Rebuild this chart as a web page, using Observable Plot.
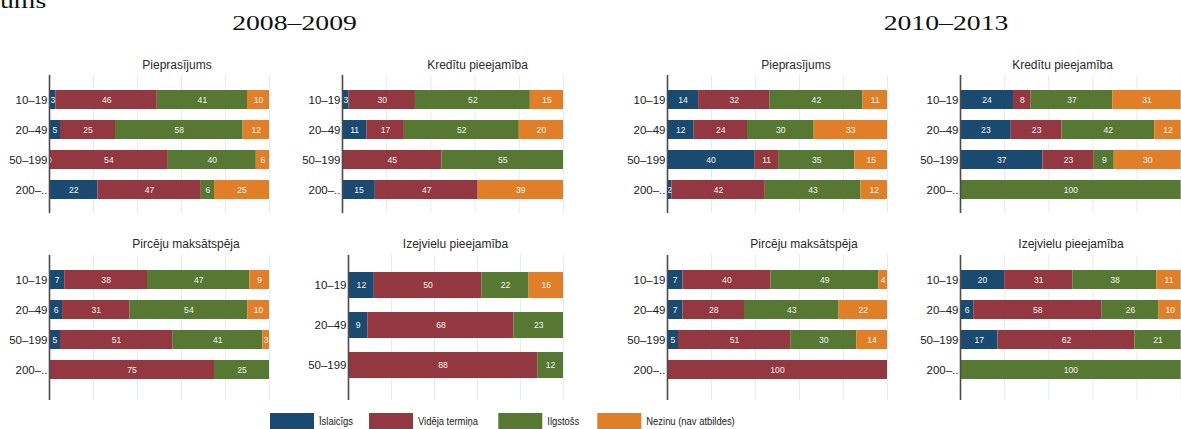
<!DOCTYPE html>
<html>
<head>
<meta charset="utf-8">
<script src="https://cdn.jsdelivr.net/npm/d3@7"></script>
<script src="https://cdn.jsdelivr.net/npm/@observablehq/plot@0.6"></script>
<style>
  body { margin: 0; background: #fff; }
  #root { position: relative; width: 1181px; height: 429px; overflow: hidden; font-family: "Liberation Sans", Arial, sans-serif; }
  #root > svg.panel { position: absolute; overflow: visible; }
  #overlay { position: absolute; left: 0; top: 0; pointer-events: none; }
</style>
</head>
<body>
<div id="root"></div>
<script>
// ---------- data ----------
const series = ["Īslaicīgs", "Vidēja termiņa", "Ilgstošs", "Nezinu (nav atbildes)"];
const colors = ["#1b4a70", "#933840", "#577833", "#e17f28"];
const sizes4 = ["10–19", "20–49", "50–199", "200–.."];
const sizes3 = ["10–19", "20–49", "50–199"];
const periods = ["2008–2009", "2010–2013"];
const topTitle = "ums";

// values per row: [Īslaicīgs, Vidēja termiņa, Ilgstošs, Nezinu]
const pieprasijums0809 = [[3, 46, 41, 10], [5, 25, 58, 12], [0, 54, 40, 6], [22, 47, 6, 25]];
const kreditu0809 = [[3, 30, 52, 15], [11, 17, 52, 20], [null, 45, 55, null], [15, 47, null, 39]];
const pircecu0809 = [[7, 38, 47, 9], [6, 31, 54, 10], [5, 51, 41, 3], [null, 75, 25, null]];
const izejvielu0809 = [[12, 50, 22, 16], [9, 68, 23, null], [null, 88, 12, null]];
const pieprasijums1013 = [[14, 32, 42, 11], [12, 24, 30, 33], [40, 11, 35, 15], [2, 42, 43, 12]];
const kreditu1013 = [[24, 8, 37, 31], [23, 23, 42, 12], [37, 23, 9, 30], [null, null, 100, null]];
const pircecu1013 = [[7, 40, 49, 4], [7, 28, 43, 22], [5, 51, 30, 14], [null, 100, null, null]];
const izejvielu1013 = [[20, 31, 38, 11], [6, 58, 26, 10], [17, 62, 21, null], [null, null, 100, null]];

const titles = ["Pieprasījums", "Kredītu pieejamība", "Pircēju maksātspēja", "Izejvielu pieejamība"];

// ---------- layout ----------
const panels = [
  {title: titles[0], rows: sizes4, values: pieprasijums0809, x0: 49, x1: 269, top: 75, bottom: 213, r0: 88.6, r1: 199.7, pi: 0.37, tx: 177, ty: 69},
  {title: titles[1], rows: sizes4, values: kreditu0809, x0: 342, x1: 563, top: 75, bottom: 213, r0: 88.6, r1: 199.7, pi: 0.37, tx: 477.5, ty: 69},
  {title: titles[0], rows: sizes4, values: pieprasijums1013, x0: 667, x1: 887, top: 75, bottom: 213, r0: 88.6, r1: 199.7, pi: 0.37, tx: 796, ty: 69},
  {title: titles[1], rows: sizes4, values: kreditu1013, x0: 960, x1: 1180.7, top: 75, bottom: 213, r0: 88.6, r1: 199.7, pi: 0.37, tx: 1062.5, ty: 69},
  {title: titles[2], rows: sizes4, values: pircecu0809, x0: 49, x1: 269, top: 255, bottom: 400, r0: 268.6, r1: 380.4, pi: 0.37, tx: 186, ty: 248},
  {title: titles[3], rows: sizes3, values: izejvielu0809, x0: 348, x1: 563, top: 255, bottom: 400, r0: 271.3, r1: 378.7, pi: 0.36, tx: 455.5, ty: 248},
  {title: titles[2], rows: sizes4, values: pircecu1013, x0: 667, x1: 887, top: 255, bottom: 400, r0: 268.6, r1: 380.4, pi: 0.37, tx: 804, ty: 248},
  {title: titles[3], rows: sizes4, values: izejvielu1013, x0: 960, x1: 1180.7, top: 255, bottom: 400, r0: 268.6, r1: 380.4, pi: 0.37, tx: 1071, ty: 248}
];

const root = document.getElementById("root");
const ml = 48, mr = 1;

panels.forEach(p => {
  const data = [];
  p.rows.forEach((r, i) => series.forEach((s, j) => {
    const v = p.values[i][j];
    if (v != null) data.push({size: r, series: s, value: v});
  }));
  const h = p.bottom - p.top;
  const chart = Plot.plot({
    width: (p.x1 - p.x0) + ml + mr,
    height: h,
    marginLeft: ml, marginRight: mr, marginTop: 0, marginBottom: 0,
    style: {fontFamily: "'Liberation Sans', Arial, sans-serif", fontSize: "11.5px", color: "#1a1a1a", background: "transparent", overflow: "visible"},
    x: {domain: [0, 1], axis: null},
    y: {domain: p.rows, range: [p.r0 - p.top, p.r1 - p.top], paddingInner: p.pi, paddingOuter: 0, label: null, tickSize: 0, tickPadding: 2},
    color: {domain: series, range: colors},
    marks: [
      Plot.gridX([0, 0.2, 0.4, 0.6, 0.8, 1], {stroke: "#e6ecef", strokeOpacity: 1, strokeWidth: 1}),
      Plot.barX(data, Plot.stackX({x: "value", y: "size", fill: "series", offset: "normalize", order: series})),
      Plot.textX(data, Plot.stackX({x: "value", y: "size", z: "series", text: d => String(d.value), offset: "normalize", order: series, fill: "#f4f4f4", fontSize: 8.6})),
      Plot.ruleX([0], {stroke: "#4a4a4a", strokeWidth: 1.6})
    ]
  });
  chart.classList.add("panel");
  chart.style.left = (p.x0 - ml) + "px";
  chart.style.top = p.top + "px";
  root.appendChild(chart);
});

// ---------- overlay texts & legend ----------
const ov = d3.select(root).append("svg").attr("id", "overlay").attr("width", 1181).attr("height", 429);

ov.append("text").attr("transform", "translate(0,7.5) scale(1.26,1)")
  .attr("font-family", "'Liberation Serif', 'Times New Roman', serif").attr("font-size", 22).attr("fill", "#111")
  .text(topTitle);

[294.5, 946].forEach((cx, i) => {
  ov.append("text").attr("transform", `translate(${cx},30) scale(1.26,1)`)
    .attr("text-anchor", "middle")
    .attr("font-family", "'Liberation Serif', 'Times New Roman', serif").attr("font-size", 22).attr("fill", "#111")
    .text(periods[i]);
});

panels.forEach(p => {
  ov.append("text").attr("x", p.tx).attr("y", p.ty).attr("text-anchor", "middle")
    .attr("font-family", "'Liberation Sans', Arial, sans-serif").attr("font-size", 12).attr("fill", "#2a2a2a")
    .text(p.title);
});

const legendX = [270, 369, 498.3, 597.3];
series.forEach((s, i) => {
  ov.append("rect").attr("x", legendX[i]).attr("y", 413).attr("width", 44).attr("height", 16).attr("fill", colors[i]);
  ov.append("text").attr("transform", `translate(${legendX[i] + 49},425) scale(0.82,1)`)
    .attr("font-family", "'Liberation Sans', Arial, sans-serif")
    .attr("font-size", 11.5).attr("fill", "#1a1a1a")
    .text(s);
});
</script>
</body>
</html>
